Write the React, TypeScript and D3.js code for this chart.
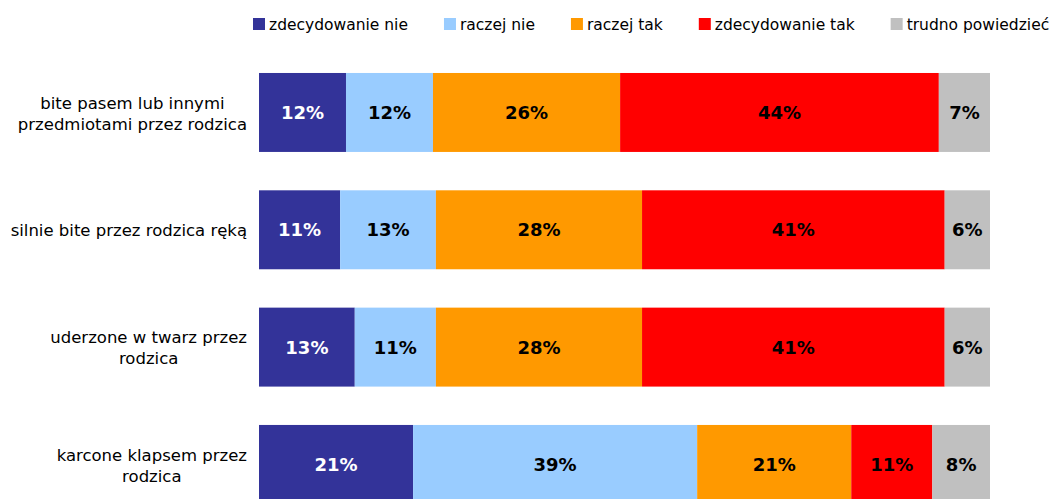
import React, { useEffect, useRef } from "react";
import * as d3 from "d3";

const categories = [
  ["bite pasem lub innymi", "przedmiotami przez rodzica"],
  ["silnie bite przez rodzica ręką"],
  ["uderzone w twarz przez", "rodzica"],
  ["karcone klapsem przez", "rodzica"],
];
const seriesNames = ["zdecydowanie nie", "raczej nie", "raczej tak", "zdecydowanie tak", "trudno powiedzieć"];
const zdecydowanieNie = [11.9, 11.1, 13.1, 21.1];
const raczejNie = [11.9, 13.1, 11.1, 38.9];
const raczejTak = [25.6, 28.2, 28.2, 21.1];
const zdecydowanieTak = [43.6, 41.4, 41.4, 11.1];
const trudnoPowiedziec = [7.0, 6.2, 6.2, 7.9];
const seriesValues = [zdecydowanieNie, raczejNie, raczejTak, zdecydowanieTak, trudnoPowiedziec];
const colors = ["#333399", "#99CCFF", "#FF9900", "#FF0000", "#C0C0C0"];
const labelColors = ["#FFFFFF", "#000000", "#000000", "#000000", "#000000"];

const W = 1050;
const H = 499;
const FONT = "'DejaVu Sans', Verdana, sans-serif";

export default function App() {
  const ref = useRef<SVGSVGElement | null>(null);

  useEffect(() => {
    const svg = d3.select(ref.current);
    svg.selectAll("*").remove();

    const rows = categories.map((c, i) => {
      const o: any = { key: i };
      seriesNames.forEach((s, j) => (o[s] = seriesValues[j][i]));
      return o;
    });
    const stacked = d3.stack<any>().keys(seriesNames).offset(d3.stackOffsetExpand)(rows);

    const x = d3.scaleLinear().domain([0, 1]).range([259, 990]);
    const y = d3
      .scaleBand<number>()
      .domain(categories.map((_, i) => i))
      .range([53.8, 523.1])
      .paddingInner(0.327)
      .paddingOuter(0.1635);

    // bars
    const g = svg.append("g");
    stacked.forEach((layer, j) => {
      const lg = g.append("g");
      lg.selectAll("rect")
        .data(layer)
        .join("rect")
        .attr("x", (d) => x(d[0]))
        .attr("width", (d) => x(d[1]) - x(d[0]))
        .attr("y", (_, i) => y(i)!)
        .attr("height", y.bandwidth())
        .attr("fill", colors[j]);
      lg.selectAll("text")
        .data(layer)
        .join("text")
        .attr("x", (d) => (x(d[0]) + x(d[1])) / 2)
        .attr("y", (_, i) => y(i)! + y.bandwidth() / 2)
        .attr("dy", "0.36em")
        .attr("text-anchor", "middle")
        .attr("font-family", FONT)
        .attr("font-weight", "bold")
        .attr("font-size", 18)
        .attr("fill", labelColors[j])
        .text((_, i) => Math.round(seriesValues[j][i]) + "%");
    });

    // category labels
    const lineH = 21;
    const rightEdge = 247;
    categories.forEach((lines, i) => {
      const cy = y(i)! + y.bandwidth() / 2;
      const t = svg
        .append("text")
        .attr("font-family", FONT)
        .attr("font-size", 16.5)
        .attr("fill", "#000")
        .attr("text-anchor", "middle");
      const spans = lines.map((ln, k) =>
        t
          .append("tspan")
          .attr("y", cy + (k - (lines.length - 1) / 2) * lineH)
          .attr("dy", "0.4em")
          .text(ln)
      );
      const maxW = d3.max(spans, (s) => (s.node() as SVGTSpanElement).getComputedTextLength()) || 0;
      spans.forEach((s) => s.attr("x", rightEdge - maxW / 2));
    });

    // legend
    let lx = 253;
    seriesNames.forEach((name, j) => {
      svg.append("rect").attr("x", lx).attr("y", 18).attr("width", 12).attr("height", 12).attr("fill", colors[j]);
      const t = svg
        .append("text")
        .attr("x", lx + 16)
        .attr("y", 30)
        .attr("font-family", FONT)
        .attr("font-size", 15.5)
        .attr("fill", "#000")
        .text(name);
      const w = (t.node() as SVGTextElement).getComputedTextLength();
      lx += 16 + w + 36;
    });
  }, []);

  return (
    <svg
      ref={ref}
      width={W}
      height={H}
      style={{ position: "absolute", left: 0, top: 0, background: "#fff" }}
    />
  );
}
